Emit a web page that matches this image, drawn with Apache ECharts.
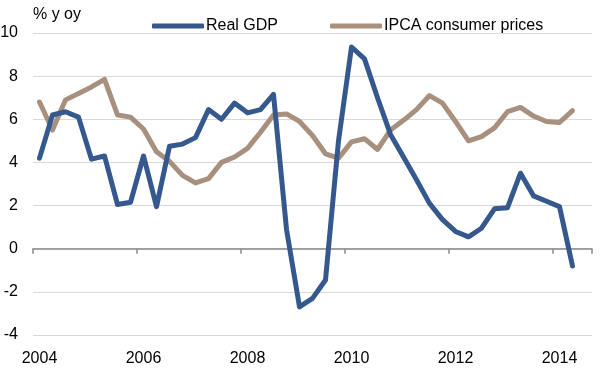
<!DOCTYPE html>
<html>
<head>
<meta charset="utf-8">
<script src="https://cdn.jsdelivr.net/npm/echarts@6/dist/echarts.min.js"></script>
<style>
html,body{margin:0;padding:0;background:#fff;}
#chart{width:600px;height:368px;}
</style>
</head>
<body>
<div id="chart"></div>
<script>
const quarters = [
  "2004 Q1","2004 Q2","2004 Q3","2004 Q4",
  "2005 Q1","2005 Q2","2005 Q3","2005 Q4",
  "2006 Q1","2006 Q2","2006 Q3","2006 Q4",
  "2007 Q1","2007 Q2","2007 Q3","2007 Q4",
  "2008 Q1","2008 Q2","2008 Q3","2008 Q4",
  "2009 Q1","2009 Q2","2009 Q3","2009 Q4",
  "2010 Q1","2010 Q2","2010 Q3","2010 Q4",
  "2011 Q1","2011 Q2","2011 Q3","2011 Q4",
  "2012 Q1","2012 Q2","2012 Q3","2012 Q4",
  "2013 Q1","2013 Q2","2013 Q3","2013 Q4",
  "2014 Q1","2014 Q2","2014 Q3"
];
const realGDP = [
  4.2, 6.2, 6.35, 6.1, 4.15, 4.3, 2.05, 2.15, 4.3, 1.95,
  4.75, 4.85, 5.15, 6.45, 6.0, 6.75, 6.3, 6.45, 7.15, 0.9,
  -2.7, -2.3, -1.45, 5.0, 9.35, 8.8, 7.0, 5.3, 4.25, 3.2,
  2.1, 1.35, 0.8, 0.55, 0.95, 1.85, 1.9, 3.5, 2.45, 2.2,
  1.95, -0.8
];
const ipca = [
  6.8, 5.5, 6.9, 7.2, 7.5, 7.85, 6.2, 6.1, 5.55, 4.5,
  4.05, 3.4, 3.05, 3.25, 4.0, 4.25, 4.65, 5.4, 6.2, 6.25,
  5.9, 5.25, 4.4, 4.2, 4.95, 5.1, 4.6, 5.5, 5.95, 6.45,
  7.1, 6.75, 5.9, 5.0, 5.2, 5.6, 6.35, 6.55, 6.15, 5.9,
  5.85, 6.4
];
const yTicks = { min: -4, max: 10, interval: 2 };
const seriesNames = ["Real GDP", "IPCA consumer prices"];
const unitLabel = "% y oy";

const chart = echarts.init(document.getElementById('chart'), null, {renderer: 'canvas'});
const font = 'Liberation Sans, Arial, sans-serif';
chart.setOption({
  animation: false,
  backgroundColor: '#ffffff',
  textStyle: { fontFamily: font },
  graphic: [{
    type: 'text', left: 33, top: 7,
    style: { text: unitLabel, font: '16px ' + font, fill: '#000' }
  }],
  legend: {
    top: 13, left: 147,
    itemGap: 52,
    itemWidth: 52, itemHeight: 5,
    icon: 'roundRect',
    textStyle: { fontSize: 16, color: '#000', fontFamily: font, padding: [0,0,0,-3] },
    data: seriesNames
  },
  grid: { left: 33, right: 8, top: 33, bottom: 33, containLabel: false, outerBoundsMode: 'none' },
  xAxis: [{
    type: 'category', data: quarters, boundaryGap: true, position: 'bottom',
    axisLine: { onZero: true, lineStyle: { color: '#8a8a8a', width: 1.5 } },
    axisTick: { show: true, interval: 7, length: 5, lineStyle: { color: '#8a8a8a', width: 1.5 } },
    axisLabel: { show: false },
    splitLine: { show: false }
  }, {
    type: 'category', data: quarters, boundaryGap: true, position: 'bottom',
    axisLine: { show: false, onZero: false },
    axisTick: { show: false },
    axisLabel: { show: true, interval: 7, margin: 16, fontSize: 16, color: '#000', fontFamily: font,
      formatter: v => v.slice(0, 4) },
    splitLine: { show: false }
  }],
  yAxis: {
    type: 'value', min: yTicks.min, max: yTicks.max, interval: yTicks.interval,
    axisLine: { show: false }, axisTick: { show: false },
    axisLabel: { margin: 15, fontSize: 16, color: '#000', fontFamily: font },
    splitLine: { lineStyle: { color: '#d9d9d9', width: 1.2 } }
  },
  series: [{
    name: seriesNames[0], type: 'line', data: realGDP, xAxisIndex: 0,
    symbol: 'none', color: '#35598f',
    lineStyle: { width: 5, color: '#35598f', join: 'round', cap: 'round' }, z: 3
  }, {
    name: seriesNames[1], type: 'line', data: ipca, xAxisIndex: 0,
    symbol: 'none', color: '#a8907f',
    lineStyle: { width: 5, color: '#a8907f', join: 'round', cap: 'round' }, z: 2
  }]
});
</script>
</body>
</html>
